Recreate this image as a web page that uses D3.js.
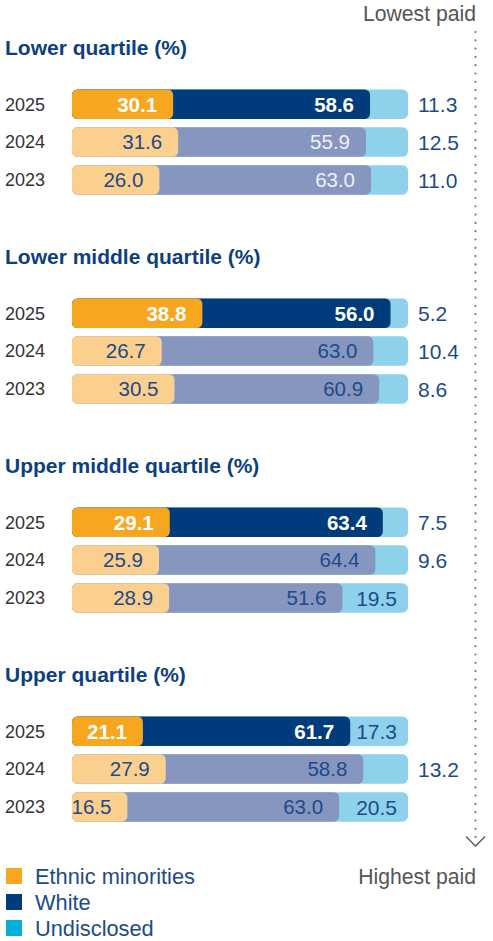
<!DOCTYPE html>
<html><head><meta charset="utf-8">
<script src="https://cdn.jsdelivr.net/npm/d3@7"></script>
<style>
html,body{margin:0;padding:0;background:#fff;}
svg{display:block;font-family:"Liberation Sans",Arial,Helvetica,sans-serif;}
</style></head>
<body>
<script>
const groups = ["Lower quartile (%)", "Lower middle quartile (%)", "Upper middle quartile (%)", "Upper quartile (%)"];
const years = ["2025", "2024", "2023"];
const ethnic = [[30.1, 31.6, 26.0], [38.8, 26.7, 30.5], [29.1, 25.9, 28.9], [21.1, 27.9, 16.5]];
const white = [[58.6, 55.9, 63.0], [56.0, 63.0, 60.9], [63.4, 64.4, 51.6], [61.7, 58.8, 63.0]];
const undisclosed = [[11.3, 12.5, 11.0], [5.2, 10.4, 8.6], [7.5, 9.6, 19.5], [17.3, 13.2, 20.5]];
const legendLabels = ["Ethnic minorities", "White", "Undisclosed"];
const topLabel = "Lowest paid", bottomLabel = "Highest paid";

const W = 493, H = 941;
const navy = "#1d4a8a";
const colCurrent = ["#f6a71f", "#003c7b", "#8ed1eb"];
const colPast = ["#fbcf8d", "#8796bf", "#8ed1eb"];
const legendCols = ["#f6a71f", "#003c7b", "#00b0d8"];

const svg = d3.select("body").append("svg").attr("width", W).attr("height", H);

const x = d3.scaleLinear().domain([0, 100]).range([72, 408]);
const gy = d3.scaleBand().domain(groups).range([89.5, 89.5 + 209 * 4]).paddingInner(0);
const ry = d3.scaleBand().domain(years).range([0, 105.2]).paddingInner(0.22).paddingOuter(0);

// arrow (dotted line + chevron)
svg.append("line").attr("x1", 475.5).attr("x2", 475.5).attr("y1", 32).attr("y2", 842)
  .attr("stroke", "#777").attr("stroke-width", 2.2).attr("stroke-linecap", "round")
  .attr("stroke-dasharray", "0 8.3");
svg.append("polyline").attr("points", "466,836.5 475.5,846 485,836.5")
  .attr("fill", "none").attr("stroke", "#666").attr("stroke-width", 1.6);
svg.append("text").attr("x", 476).attr("y", 21).attr("text-anchor", "end")
  .attr("font-size", 21.2).attr("fill", "#555").text(topLabel);
svg.append("text").attr("x", 476).attr("y", 884).attr("text-anchor", "end")
  .attr("font-size", 21.2).attr("fill", "#555").text(bottomLabel);

groups.forEach((g, gi) => {
  const top = gy(g);
  const G = svg.append("g");
  G.append("text").attr("x", 5).attr("y", top - 35).attr("font-size", 21)
    .attr("font-weight", "bold").attr("fill", "#0d3f7e").text(g);
  years.forEach((yr, ri) => {
    const y0 = top + ry(yr), h = ry.bandwidth(), cy = y0 + h / 2;
    const cols = ri === 0 ? colCurrent : colPast;
    const em = ethnic[gi][ri], wh = white[gi][ri], un = undisclosed[gi][ri];
    G.append("text").attr("x", 5).attr("y", cy).attr("dy", "0.35em")
      .attr("font-size", 18).attr("fill", "#333").text(yr);
    G.append("rect").attr("x", x(0)).attr("y", y0).attr("width", x(100) - x(0)).attr("height", h)
      .attr("rx", 5.5).attr("fill", cols[2]);
    G.append("rect").attr("x", x(0)).attr("y", y0).attr("width", x(em + wh) - x(0)).attr("height", h)
      .attr("rx", 5.5).attr("fill", cols[1]);
    G.append("rect").attr("x", x(0)).attr("y", y0).attr("width", x(em) - x(0)).attr("height", h)
      .attr("rx", 5.5).attr("fill", cols[0]);
    const bold = ri === 0;
    G.append("text").attr("x", x(em) - 16).attr("y", cy).attr("dy", "0.36em")
      .attr("text-anchor", "end").attr("font-size", 20.5)
      .attr("font-weight", bold ? "bold" : "normal")
      .attr("fill", bold ? "#fff" : navy).text(em.toFixed(1));
    G.append("text").attr("x", x(em + wh) - 16).attr("y", cy).attr("dy", "0.36em")
      .attr("text-anchor", "end").attr("font-size", 20.5)
      .attr("font-weight", bold ? "bold" : "normal")
      .attr("fill", bold ? "#fff" : (gi === 0 ? "#eef0f7" : navy)).text(wh.toFixed(1));
    const inside = un >= 15;
    G.append("text").attr("x", inside ? x(100) - 11 : x(100) + 10).attr("y", cy).attr("dy", "0.36em")
      .attr("text-anchor", inside ? "end" : "start").attr("font-size", 21)
      .attr("fill", navy).text(un.toFixed(1));
  });
});

const L = svg.append("g");
legendLabels.forEach((lab, i) => {
  const cy = 876 + i * 26;
  L.append("rect").attr("x", 6).attr("y", cy - 8).attr("width", 16).attr("height", 16).attr("fill", legendCols[i]);
  L.append("text").attr("x", 35).attr("y", cy).attr("dy", "0.36em").attr("font-size", 21.8)
    .attr("fill", navy).text(lab);
});
</script>
</body></html>
